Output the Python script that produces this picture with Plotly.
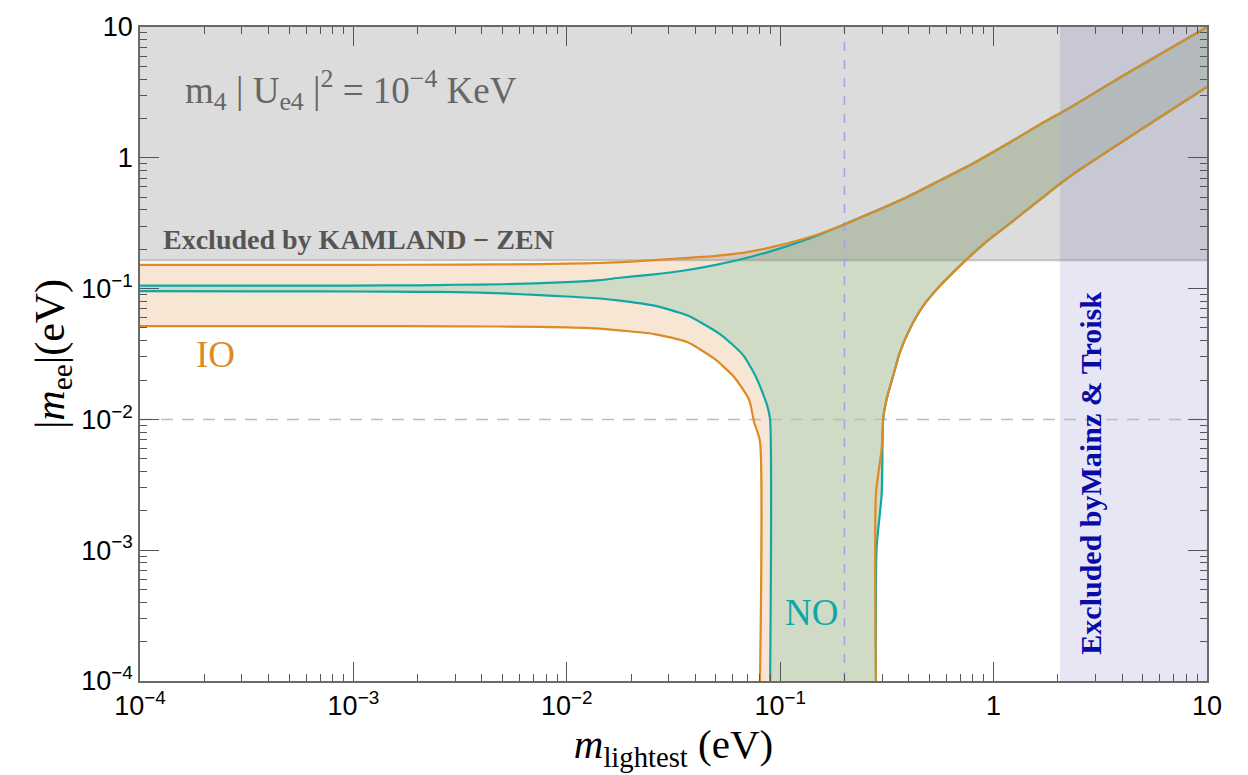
import plotly.graph_objects as go

# ---------------- data ----------------
# IO upper edge (small m part)
io_up_m = [1e-4, 1e-3, 3e-3, 0.0075, 0.01, 0.0143, 0.02, 0.03, 0.05, 0.07, 0.1, 0.14]
io_up_v = [0.152, 0.152, 0.1525, 0.154, 0.155, 0.157, 0.161, 0.168, 0.178, 0.19, 0.215, 0.25]
# NO upper edge (small m part)
no_up_m = [1e-4, 1e-3, 2e-3, 3e-3, 5e-3, 0.01, 0.0143, 0.0177, 0.025, 0.035, 0.05, 0.07, 0.1, 0.14]
no_up_v = [0.1053, 0.1055, 0.106, 0.107, 0.108, 0.112, 0.116, 0.121, 0.128, 0.137, 0.152, 0.172, 0.203, 0.245]
# common upper edge (large m, IO and NO coincide)
up_m = [0.1905, 0.273, 0.392, 0.561, 0.804, 1.152, 1.65, 2.28, 4.0, 10.0]
up_v = [0.300, 0.385, 0.50, 0.672, 0.91, 1.27, 1.80, 2.42, 4.2, 10.0]
# IO lower edge, left branch
io_lo_m = [1e-4, 1e-3, 3e-3, 0.0075, 0.01, 0.0143, 0.0177, 0.0254, 0.0366, 0.0491, 0.0608, 0.0715, 0.0754, 0.0804, 0.0804]
io_lo_v = [0.0516, 0.0516, 0.0515, 0.051, 0.0505, 0.0495, 0.0479, 0.0451, 0.039, 0.0291, 0.0211, 0.0141, 0.0096, 0.00678, 1e-4]
# NO lower edge, left branch
no_lo_m = [1e-4, 5e-4, 1e-3, 2e-3, 3e-3, 5e-3, 0.0075, 0.01, 0.0143, 0.0177, 0.0254, 0.0366, 0.0522, 0.067, 0.0778, 0.0867, 0.0896, 0.0897]
no_lo_v = [0.0955, 0.0953, 0.095, 0.0945, 0.094, 0.092, 0.089, 0.087, 0.084, 0.081, 0.0744, 0.0625, 0.0449, 0.031, 0.0204, 0.0129, 0.0101, 1e-4]
# IO lower edge, right branch
io_lr_m = [0.281, 0.281, 0.299, 0.304, 0.316, 0.339, 0.364, 0.405, 0.469, 0.561, 0.721, 0.895, 1.152, 1.65, 2.28, 10.0]
io_lr_v = [1e-4, 0.0027, 0.006, 0.0102, 0.0145, 0.0218, 0.0327, 0.0492, 0.0741, 0.105, 0.158, 0.218, 0.301, 0.479, 0.721, 3.48]
# NO lower edge, right branch
no_lr_m = [0.281, 0.283, 0.299, 0.304, 0.316, 0.339, 0.364, 0.405, 0.469, 0.561, 0.721, 0.895, 1.152, 1.65, 2.28, 10.0]
no_lr_v = [1e-4, 0.00104, 0.0027, 0.0102, 0.0145, 0.0218, 0.0327, 0.0492, 0.0741, 0.105, 0.158, 0.218, 0.301, 0.479, 0.721, 3.48]

kamland_limit = 0.165
mainz_limit = 2.05
x_ref_line = 0.2
y_ref_line = 0.01

x_range = [1e-4, 10.0]
y_range = [1e-4, 10.0]

tick_vals = [1e-4, 1e-3, 1e-2, 1e-1, 1, 10]
tick_text = ["10<sup>−4</sup>", "10<sup>−3</sup>", "10<sup>−2</sup>", "10<sup>−1</sup>", "1", "10"]
minor_vals = [k * 10.0 ** e for e in range(-4, 1) for k in range(2, 10)]

ORANGE = "#dc8b26"
TEAL = "#12a7a7"
PEACH = "#f7e6d3"
GREEN = "#cfdbc5"

# ---------------- assemble curves ----------------
io_upper_m = io_up_m + up_m
io_upper_v = io_up_v + up_v
no_upper_m = no_up_m + up_m
no_upper_v = no_up_v + up_v

io_poly_x = io_upper_m + io_lr_m[::-1] + io_lo_m[::-1]
io_poly_y = io_upper_v + io_lr_v[::-1] + io_lo_v[::-1]
no_poly_x = no_upper_m + no_lr_m[::-1] + no_lo_m[::-1]
no_poly_y = no_upper_v + no_lr_v[::-1] + no_lo_v[::-1]

fig = go.Figure()

# fills
fig.add_trace(go.Scatter(x=io_poly_x, y=io_poly_y, fill="toself", fillcolor=PEACH,
                         mode="lines", line=dict(width=0), hoverinfo="skip"))
fig.add_trace(go.Scatter(x=no_poly_x, y=no_poly_y, fill="toself", fillcolor=GREEN,
                         mode="lines", line=dict(width=0), hoverinfo="skip"))
# Mainz & Troisk excluded region
fig.add_trace(go.Scatter(x=[mainz_limit, x_range[1], x_range[1], mainz_limit],
                         y=[y_range[0], y_range[0], y_range[1], y_range[1]],
                         fill="toself", fillcolor="rgba(200,200,233,0.45)",
                         mode="lines", line=dict(width=0), hoverinfo="skip"))
# KamLAND-Zen excluded region
fig.add_trace(go.Scatter(x=[x_range[0], x_range[1], x_range[1], x_range[0]],
                         y=[kamland_limit, kamland_limit, y_range[1], y_range[1]],
                         fill="toself", fillcolor="rgba(102,102,102,0.23)",
                         mode="lines", line=dict(width=0), hoverinfo="skip"))
fig.add_trace(go.Scatter(x=x_range, y=[kamland_limit, kamland_limit], mode="lines",
                         line=dict(color="rgba(140,140,140,0.45)", width=2), hoverinfo="skip"))
# reference dashed lines
fig.add_trace(go.Scatter(x=[x_ref_line, x_ref_line], y=y_range, mode="lines",
                         line=dict(color="#a4a4e4", width=1.5, dash="9px,9px"), hoverinfo="skip"))
fig.add_trace(go.Scatter(x=x_range, y=[y_ref_line, y_ref_line], mode="lines",
                         line=dict(color="#bcbcbc", width=1.5, dash="12px,9px"), hoverinfo="skip"))

# curves (NO first, IO on top)
for xs, ys, c in [(no_upper_m, no_upper_v, TEAL), (no_lo_m, no_lo_v, TEAL), (no_lr_m, no_lr_v, TEAL),
                  (io_upper_m, io_upper_v, ORANGE), (io_lo_m, io_lo_v, ORANGE), (io_lr_m, io_lr_v, ORANGE)]:
    fig.add_trace(go.Scatter(x=xs, y=ys, mode="lines", line=dict(color=c, width=2.2, shape="spline", smoothing=0.6),
                             hoverinfo="skip"))

axis_common = dict(
    type="log", tickmode="array", tickvals=tick_vals, ticktext=tick_text,
    ticks="inside", ticklen=19, tickwidth=1, tickcolor="#555",
    showline=True, linecolor="#6a6a6a", linewidth=1.5, mirror="ticks",
    showgrid=False, zeroline=False,
    tickfont=dict(family="Liberation Sans", size=27, color="black"),
    minor=dict(tickmode="array", tickvals=minor_vals, ticks="inside", ticklen=7, tickcolor="#555", showgrid=False),
)

fig.update_xaxes(range=[-4, 1], **axis_common,
                 title=dict(text="<i>m</i><sub>lightest</sub> (eV)",
                            font=dict(family="Liberation Serif", size=41, color="black"), standoff=2))
fig.update_yaxes(range=[-4, 1], **axis_common,
                 title=dict(text="|<i>m</i><sub>ee</sub>|(eV)",
                            font=dict(family="Liberation Serif", size=42, color="black"), standoff=4))

fig.update_layout(
    width=1248, height=775,
    margin=dict(l=140, r=41, t=23, b=94),
    plot_bgcolor="white", paper_bgcolor="white", showlegend=False,
    annotations=[
        dict(text="m<sub>4</sub> | U<sub>e4</sub> |<sup>2</sup> = 10<sup>−4</sup> KeV",
             xref="paper", yref="paper", x=0.040, y=0.903, xanchor="left", yanchor="middle",
             showarrow=False, font=dict(family="Liberation Serif", size=37, color="#666")),
        dict(text="<b>Excluded by KAMLAND − ZEN</b>",
             xref="paper", yref="paper", x=0.020, y=0.675, xanchor="left", yanchor="middle",
             showarrow=False, font=dict(family="Liberation Serif", size=28, color="#555")),
        dict(text="IO", xref="paper", yref="paper", x=0.0703, y=0.50, xanchor="center", yanchor="middle",
             showarrow=False, font=dict(family="Liberation Serif", size=37, color=ORANGE)),
        dict(text="NO", xref="paper", yref="paper", x=0.629, y=0.105, xanchor="center", yanchor="middle",
             showarrow=False, font=dict(family="Liberation Serif", size=37, color=TEAL)),
        dict(text="<b>Excluded byMainz & Troisk</b>", xref="paper", yref="paper", x=0.890, y=0.318,
             xanchor="center", yanchor="middle", textangle=-90,
             showarrow=False, font=dict(family="Liberation Serif", size=30, color="#0a0aa8")),
    ],
)

fig.write_html("out.html")
